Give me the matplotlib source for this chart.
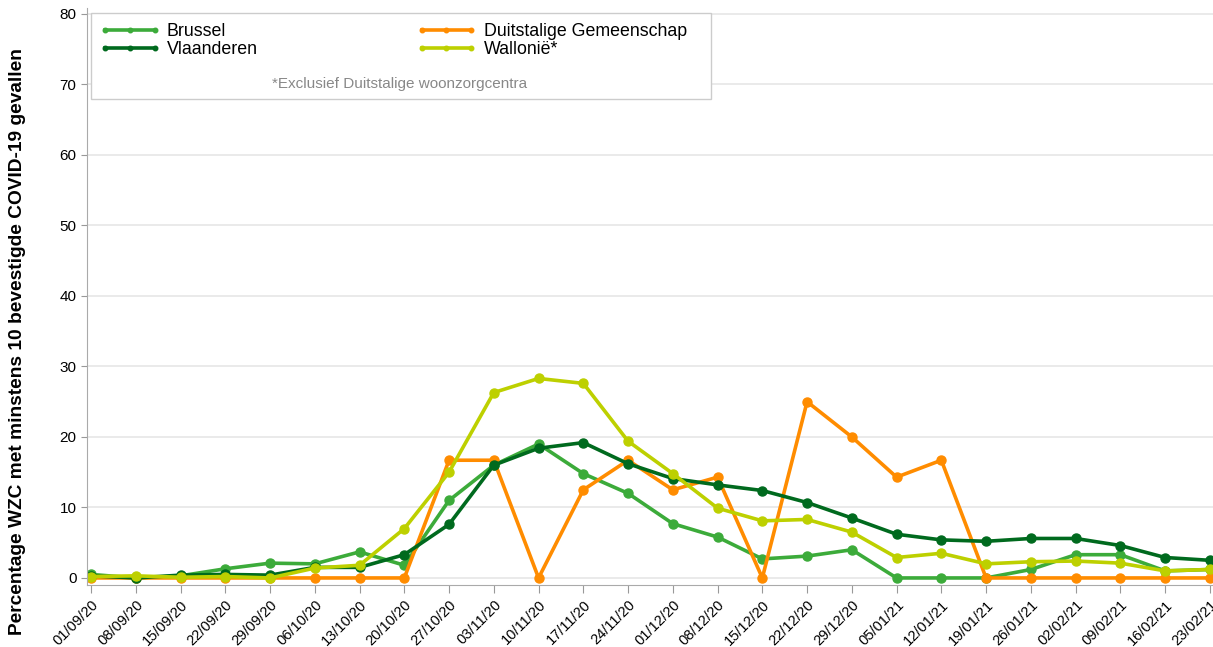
import matplotlib.pyplot as plt
from matplotlib.patches import Rectangle

plt.rcParams["font.family"] = ["Liberation Sans", "DejaVu Sans"]

# data
dates = ["01/09/20", "08/09/20", "15/09/20", "22/09/20", "29/09/20", "06/10/20", "13/10/20",
         "20/10/20", "27/10/20", "03/11/20", "10/11/20", "17/11/20", "24/11/20", "01/12/20",
         "08/12/20", "15/12/20", "22/12/20", "29/12/20", "05/01/21", "12/01/21", "19/01/21",
         "26/01/21", "02/02/21", "09/02/21", "16/02/21", "23/02/21"]

brussel = [0.5, 0.0, 0.3, 1.3, 2.1, 2.0, 3.7, 1.8, 11.0, 16.0, 19.0, 14.8, 12.0, 7.7,
           5.8, 2.7, 3.1, 4.0, 0.0, 0.0, 0.0, 1.2, 3.3, 3.3, 1.0, 1.2]
vlaanderen = [0.3, 0.0, 0.4, 0.5, 0.4, 1.5, 1.5, 3.3, 7.6, 16.0, 18.4, 19.2, 16.2, 14.1,
              13.2, 12.4, 10.7, 8.5, 6.2, 5.4, 5.2, 5.6, 5.6, 4.6, 2.9, 2.5]
duitstalig = [0.0, 0.0, 0.0, 0.0, 0.0, 0.0, 0.0, 0.0, 16.7, 16.7, 0.0, 12.5, 16.7, 12.5,
              14.3, 0.0, 25.0, 20.0, 14.3, 16.7, 0.0, 0.0, 0.0, 0.0, 0.0, 0.0]
wallonie = [0.2, 0.3, 0.1, 0.2, 0.0, 1.4, 1.8, 7.0, 15.0, 26.3, 28.3, 27.6, 19.4, 14.8,
            9.9, 8.1, 8.3, 6.5, 2.9, 3.5, 2.0, 2.3, 2.4, 2.1, 1.0, 1.2]

c_bru = "#3cab3a"
c_vla = "#006a1e"
c_dui = "#ff8c00"
c_wal = "#bdd000"

fig = plt.figure(figsize=(12.13, 6.47), dpi=100)
ax = fig.add_axes([87 / 1213, 62 / 647, 1 - 87 / 1213, (585 - 8) / 647])

x = list(range(len(dates)))
style = dict(linewidth=2.6, marker="o", markersize=6.5)
ax.plot(x, brussel, color=c_bru, label="Brussel", **style)
ax.plot(x, duitstalig, color=c_dui, label="Duitstalige Gemeenschap", **style)
ax.plot(x, vlaanderen, color=c_vla, label="Vlaanderen", **style)
ax.plot(x, wallonie, color=c_wal, label="Wallonië*", **style)

ax.set_xlim(-0.09, 25.07)
ax.set_ylim(-1, 80.85)
ax.set_yticks(range(0, 81, 10))
ax.set_xticks(x)
ax.set_xticklabels(dates, rotation=45, ha="right", rotation_mode="anchor", fontsize=10.5)
ax.tick_params(axis="y", labelsize=11, color="#999999", length=4)
ax.tick_params(axis="x", color="#999999", length=6, pad=3)
ax.yaxis.grid(True, color="#e6e6e6", linewidth=1.2)
ax.set_axisbelow(True)
for s in ["top", "right"]:
    ax.spines[s].set_visible(False)
for s in ["left", "bottom"]:
    ax.spines[s].set_color("#aaaaaa")

fig.text(18 / 1213, (647 - 342) / 647,
         "Percentage WZC met minstens 10 bevestigde COVID-19 gevallen",
         fontsize=13.8, fontweight="bold", rotation=90, ha="center", va="center")

# legend box with note
box = Rectangle((91 / 1213, (647 - 99) / 647), (711 - 91) / 1213, (99 - 13) / 647,
                transform=fig.transFigure, facecolor="white", edgecolor="#cccccc",
                linewidth=1, zorder=5, clip_on=False)
ax.add_patch(box)

handles, labels = ax.get_legend_handles_labels()
order = [0, 2, 1, 3]
leg = ax.legend([handles[i] for i in order], [labels[i] for i in order], ncol=2,
                loc="upper left", bbox_to_anchor=(87 / 1213, (647 - 11) / 647),
                bbox_transform=fig.transFigure, frameon=False, fontsize=12.8,
                numpoints=3, markerscale=0.5, handlelength=3.4, handletextpad=0.4,
                columnspacing=8.9, labelspacing=0.05, borderpad=0.2)
leg.set_zorder(6)
ax.text(400 / 1213, (647 - 84) / 647, "*Exclusief Duitstalige woonzorgcentra",
        transform=fig.transFigure, fontsize=11, color="#888888",
        ha="center", va="center", zorder=7)

fig.savefig("out.png", dpi=100)
